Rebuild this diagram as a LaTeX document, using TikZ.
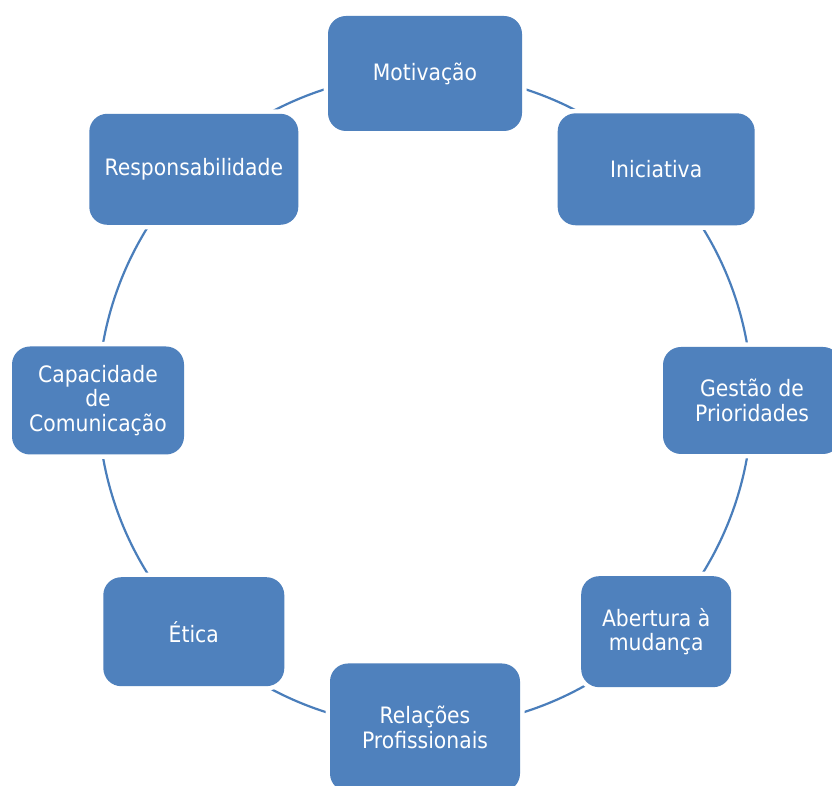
\documentclass[tikz,border=0pt]{standalone}
\usepackage{fontspec}
\setmainfont{DejaVu Sans}[FakeStretch=0.9]
\usetikzlibrary{backgrounds}
\definecolor{boxblue}{RGB}{79,129,189}
\definecolor{ringblue}{RGB}{74,126,187}
\begin{document}
\begin{tikzpicture}[x=1pt,y=1pt,
  stage/.style={fill=boxblue, rounded corners=18pt, inner sep=0pt,
    text=white, align=center, font=\fontsize{22.6}{24.5}\selectfont,
    preaction={draw=white, line width=9pt}},
  ring/.style={draw=ringblue, line width=2.2pt}]
\useasboundingbox (0,0) rectangle (832,786);
\coordinate (hub) at (425,385.5);
% the eight stages, evenly spaced on a circle of radius 327
\node[stage, minimum width=194pt, minimum height=115pt] (mot) at (425,712.5) {Motivação};
\node[stage, minimum width=197pt, minimum height=112pt] (ini) at (656.2,616.7) {Iniciativa};
\node[stage, minimum width=178pt, minimum height=107pt] (ges) at (752,385.5) {Gestão de\\Prioridades};
\node[stage, minimum width=150pt, minimum height=111pt] (abe) at (656.2,154.3) {Abertura à\\mudança};
\node[stage, minimum width=190pt, minimum height=128pt] (rel) at (425,58.5) {Relações\\Profissionais};
\node[stage, minimum width=181pt, minimum height=109pt] (eti) at (193.8,154.3) {Ética};
\node[stage, minimum width=172pt, minimum height=108pt] (cap) at (98,385.5) {Capacidade\\de\\Comunicação};
\node[stage, minimum width=209pt, minimum height=111pt] (res) at (193.8,616.7) {Responsabilidade};
% ring segments joining neighbouring stages (cut back by the white halo of each box)
\begin{pgfonlayer}{background}
\draw[ring] (mot.center) arc[start angle=90,   end angle=45,   radius=327pt];
\draw[ring] (ini.center) arc[start angle=45,   end angle=0,    radius=327pt];
\draw[ring] (ges.center) arc[start angle=0,    end angle=-45,  radius=327pt];
\draw[ring] (abe.center) arc[start angle=-45,  end angle=-90,  radius=327pt];
\draw[ring] (rel.center) arc[start angle=-90,  end angle=-135, radius=327pt];
\draw[ring] (eti.center) arc[start angle=-135, end angle=-180, radius=327pt];
\draw[ring] (cap.center) arc[start angle=180,  end angle=135,  radius=327pt];
\draw[ring] (res.center) arc[start angle=135,  end angle=90,   radius=327pt];
\end{pgfonlayer}
\end{tikzpicture}
\end{document}
